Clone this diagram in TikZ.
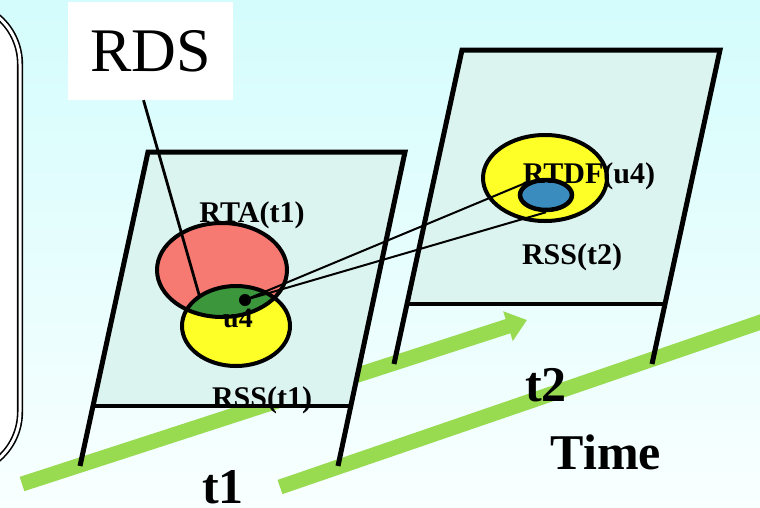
\documentclass[tikz,border=0pt]{standalone}
\usepackage{fontspec}
\setmainfont{Liberation Serif}
\usetikzlibrary{arrows.meta,shapes.geometric,calc}
\definecolor{bgtop}{RGB}{212,252,252}
\definecolor{bgbot}{RGB}{249,255,255}
\definecolor{panelcol}{RGB}{220,244,240}
\definecolor{timegreen}{RGB}{152,218,80}
\definecolor{rtared}{RGB}{246,122,114}
\definecolor{rssyellow}{RGB}{255,255,40}
\definecolor{rdsgreen}{RGB}{60,150,60}
\definecolor{rtdfblue}{RGB}{58,140,190}
\begin{document}
\begin{tikzpicture}[x=1pt,y=-1pt,
  timeline/.style={line width=15pt,timegreen,line cap=butt},
  panelbg/.style={fill=panelcol},
  panelside/.style={line width=5pt,line join=miter},
  panelbar/.style={line width=4pt},
  regionline/.style={ellipse,draw,line width=4pt,inner sep=0pt},
  lbl/.style={font=\bfseries\fontsize{30pt}{30pt}\selectfont,inner sep=0pt,anchor=base},
  biglbl/.style={font=\bfseries\fontsize{50pt}{50pt}\selectfont,inner sep=0pt,anchor=base},
  connector/.style={line width=2pt}]
\useasboundingbox (0,0) rectangle (760,507);
\clip (0,0) rectangle (760,507);
% background
\shade[top color=bgtop,bottom color=bgbot] (0,0) rectangle (760,507);
% left double frame
\draw[double,double distance=3pt,line width=1.6pt,fill=white,rounded corners=62pt] (-200,2) rectangle (20,474);
% time lines
\coordinate (tastart) at (22,484);
\coordinate (taend) at (527,320);
\coordinate (tbstart) at (280,487);
\coordinate (tbend) at (790,312);
\draw[timeline,-{Triangle[width=30pt,length=20pt]}] (tastart) -- (taend);
\draw[timeline] (tbstart) -- (tbend);
% panel 1
\coordinate (p1tl) at (148,152);
\coordinate (p1tr) at (405,152);
\coordinate (p1bl) at (80,466);
\coordinate (p1br) at (338,466);
\coordinate (p1ml) at ($(p1tl)!0.809!(p1bl)$);
\coordinate (p1mr) at ($(p1tr)!0.809!(p1br)$);
\fill[panelbg] (p1tl) -- (p1tr) -- (p1mr) -- (p1ml) -- cycle;
\node[lbl] (rss1lbl) at (262,407) {RSS(t1)};
\draw[panelside] (p1bl) -- (p1tl) -- (p1tr) -- (p1br);
\draw[panelbar] (p1ml) -- (p1mr);
% panel 2
\coordinate (p2tl) at (462,50);
\coordinate (p2tr) at (720,50);
\coordinate (p2bl) at (394,364);
\coordinate (p2br) at (652,364);
\coordinate (p2ml) at ($(p2tl)!0.809!(p2bl)$);
\coordinate (p2mr) at ($(p2tr)!0.809!(p2br)$);
\fill[panelbg] (p2tl) -- (p2tr) -- (p2mr) -- (p2ml) -- cycle;
\draw[panelside] (p2bl) -- (p2tl) -- (p2tr) -- (p2br);
\draw[panelbar] (p2ml) -- (p2mr);
% regions in panel 1
\fill[rtared] (222,270) ellipse [x radius=65pt,y radius=47pt];
\fill[rssyellow] (236,326) ellipse [x radius=54pt,y radius=40pt];
\begin{scope}
  \clip (222,270) ellipse [x radius=65pt,y radius=47pt];
  \fill[rdsgreen] (236,326) ellipse [x radius=54pt,y radius=40pt];
\end{scope}
\node[font=\bfseries\fontsize{28pt}{28pt}\selectfont,inner sep=0pt,anchor=base] (u4lbl) at (238,327) {u4};
\node[regionline,minimum width=130pt,minimum height=94pt] (rta) at (222,270) {};
\node[regionline,minimum width=108pt,minimum height=80pt] (rss1) at (236,326) {};
\node[circle,fill=black,inner sep=0pt,minimum size=12pt] (dot) at (245,300) {};
\node[lbl] (rtalbl) at (252,222) {RTA(t1)};
% regions in panel 2
\node[regionline,fill=rssyellow,minimum width=124pt,minimum height=86pt] (rss2) at (545,178) {};
\node[regionline,line width=4.5pt,fill=rtdfblue,minimum width=52pt,minimum height=30pt] (rtdf) at (546,195) {};
\node[lbl] (rtdflbl) at (589,183) {RTDF(u4)};
\node[lbl] (rss2lbl) at (572,264) {RSS(t2)};
% RDS box
\node[fill=white,minimum width=165pt,minimum height=98pt,inner sep=0pt,font=\fontsize{62pt}{62pt}\selectfont] (rds) at (150.5,51) {RDS};
\coordinate (rdsend) at (200,298);
\draw[connector,line width=2.8pt] ([xshift=-7pt]rds.south) -- (rdsend);
% connectors to RTDF
\draw[connector] (dot.center) -- (rtdf.148);
\draw[connector] (dot.center) -- (rtdf.south);
% time labels
\node[biglbl] (t1lbl) at (223,503) {t1};
\node[biglbl] (t2lbl) at (546,401) {t2};
\node[biglbl] (timelbl) at (606,469) {Time};
\end{tikzpicture}
\end{document}
